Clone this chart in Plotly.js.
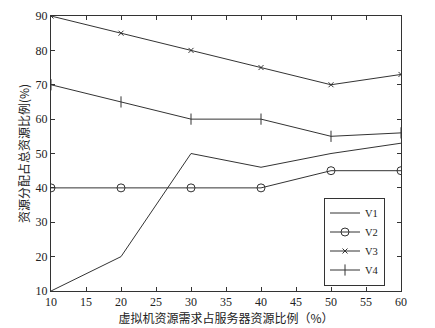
<!DOCTYPE html>
<html><head><meta charset="utf-8">
<script src="https://cdn.plot.ly/plotly-3.0.1.min.js"></script>
<style>body{margin:0;background:#fff}#c{width:435px;height:328px}</style>
</head><body><div id="c"></div>
<script>
const xVals = [10, 20, 30, 40, 50, 60];
const v1 = [10, 20, 50, 46, 50, 53];
const v2 = [40, 40, 40, 40, 45, 45];
const v3 = [90, 85, 80, 75, 70, 73];
const v4 = [70, 65, 60, 60, 55, 56];
const names = ['V1', 'V2', 'V3', 'V4'];
const xTitle = '虚拟机资源需求占服务器资源比例（%）';
const yTitle = '资源分配占总资源比例(%)';

const lc = '#333';
const traces = [
  {x: xVals, y: v1, name: names[0], mode: 'lines', line: {color: lc, width: 1}},
  {x: xVals, y: v2, name: names[1], mode: 'lines+markers', line: {color: lc, width: 1},
   marker: {symbol: 'circle-open', size: 8, color: lc, line: {width: 1}}},
  {x: xVals, y: v3, name: names[2], mode: 'lines+markers', line: {color: lc, width: 1},
   marker: {symbol: 'x-thin-open', size: 5, color: lc, line: {width: 1}}},
  {x: xVals, y: v4, name: names[3], mode: 'lines+markers', line: {color: lc, width: 1},
   marker: {symbol: 'line-ns-open', size: 8, color: lc, line: {width: 1}}}
];
const tf = {family: 'Liberation Serif, serif', size: 12, color: '#222'};
const layout = {
  width: 435, height: 328,
  margin: {l: 51, r: 34, t: 16, b: 37},
  paper_bgcolor: '#fff', plot_bgcolor: '#fff',
  showlegend: true,
  legend: {x: 0.78, y: 0.34, xanchor: 'left', yanchor: 'top',
    bordercolor: '#333', borderwidth: 1, bgcolor: '#fff',
    font: {family: 'Liberation Serif, serif', size: 10.5, color: '#222'},
    itemwidth: 30, tracegroupgap: 0},
  xaxis: {range: [10, 60], tickvals: [10,15,20,25,30,35,40,45,50,55,60],
    ticks: 'inside', ticklen: 4, tickcolor: '#333', mirror: 'ticks',
    showline: true, linecolor: '#333', linewidth: 1, showgrid: false, zeroline: false,
    tickfont: tf,
    title: {text: xTitle, standoff: 2, font: {family: 'Noto Sans CJK SC', size: 12, color: '#222'}}},
  yaxis: {range: [10, 90], tickvals: [10,20,30,40,50,60,70,80,90],
    ticks: 'inside', ticklen: 4, tickcolor: '#333', mirror: 'ticks',
    showline: true, linecolor: '#333', linewidth: 1, showgrid: false, zeroline: false,
    tickfont: tf,
    title: {text: yTitle, standoff: 3, font: {family: 'Noto Sans CJK SC', size: 12, color: '#222'}}}
};
Plotly.newPlot('c', traces, layout, {displayModeBar: false, staticPlot: true});
</script>
</body></html>
